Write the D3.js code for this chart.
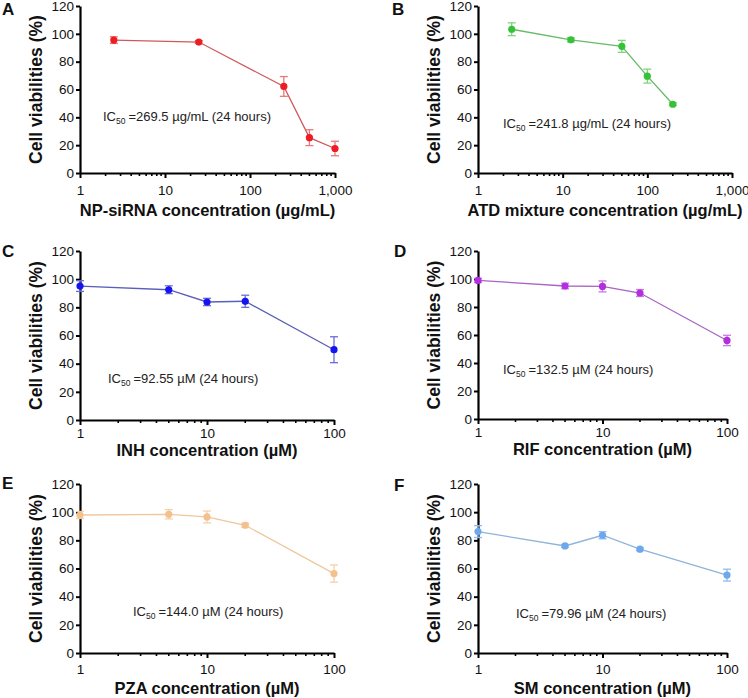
<!DOCTYPE html>
<html>
<head>
<meta charset="utf-8">
<script src="https://cdn.jsdelivr.net/npm/d3@7"></script>
<style>
  body { margin: 0; background: #fff; }
  svg { display: block; font-family: Arial, "Liberation Sans", sans-serif; }
</style>
</head>
<body>
<svg id="chart" width="748" height="698"></svg>
<script>
// ---- data ----
const panelLetters = ["A", "B", "C", "D", "E", "F"];
const xTitles = [
  "NP-siRNA concentration (µg/mL)",
  "ATD mixture concentration (µg/mL)",
  "INH concentration (µM)",
  "RIF concentration (µM)",
  "PZA concentration (µM)",
  "SM concentration (µM)"
];
const ic50Texts = [
  "=269.5 µg/mL (24 hours)",
  "=241.8 µg/mL (24 hours)",
  "=92.55 µM (24 hours)",
  "=132.5 µM (24 hours)",
  "=144.0 µM (24 hours)",
  "=79.96 µM (24 hours)"
];

const concNP = [2.5, 25, 250, 500, 1000];
const viabNP = [95.5, 94.1, 62.2, 25.4, 17.6];
const errNP = [2.4, 1.0, 7.1, 5.7, 5.2];

const concATD = [2.5, 12.5, 50, 100, 200];
const viabATD = [103.3, 95.7, 91.0, 69.6, 49.4];
const errATD = [4.6, 1.5, 4.3, 5.0, 1.0];

const concDrug = [1, 5, 10, 20, 100];
const viabINH = [95.1, 92.5, 83.8, 84.3, 49.9];
const errINH = [3.8, 2.8, 2.6, 4.3, 9.2];
const viabRIF = [99.0, 95.0, 94.7, 90.0, 56.1];
const errRIF = [1.5, 2.0, 3.9, 2.5, 3.7];
const viabPZA = [98.0, 98.5, 96.6, 90.7, 56.4];
const errPZA = [2.5, 3.3, 4.2, 1.5, 6.1];
const viabSM = [86.2, 76.0, 83.6, 73.7, 55.3];
const errSM = [4.2, 1.0, 2.5, 1.0, 4.2];

const yTicks = [0, 20, 40, 60, 80, 100, 120];
const xTicksWide = [1, 10, 100, 1000];
const xTicksNarrow = [1, 10, 100];

// ---- layout / styles (not data) ----
const colors = [
  { dot: "#ee1d24", line: "#cf5a5e", err: "#e5797c" },
  { dot: "#36c236", line: "#66bb66", err: "#7fd47f" },
  { dot: "#1414f0", line: "#5a5fb8", err: "#6c6cd8" },
  { dot: "#b42ee0", line: "#a864c4", err: "#c87ae6" },
  { dot: "#f4c08c", line: "#eec89c", err: "#f4d0aa" },
  { dot: "#6ea8ec", line: "#8eb4da", err: "#8cbcf0" }
];
const layout = [
  { l: 80, r: 335, t: 6, b: 173, tickPad: 7, titleDy: 43, ic: [23, 115], letter: [2, 15] },
  { l: 478, r: 732, t: 6, b: 173, tickPad: 7, titleDy: 43, ic: [25, 122], letter: [392, 15] },
  { l: 80, r: 334, t: 251, b: 420, tickPad: 3, titleDy: 36, ic: [28, 132], letter: [2, 257] },
  { l: 478, r: 727, t: 251, b: 419, tickPad: 3, titleDy: 36, ic: [25, 123], letter: [394, 257] },
  { l: 80, r: 334, t: 484, b: 653, tickPad: 6, titleDy: 41, ic: [53, 132], letter: [2, 489] },
  { l: 478, r: 727, t: 484, b: 653, tickPad: 6, titleDy: 41, ic: [38, 134], letter: [394, 491] }
];

const panels = [
  { x: concNP, y: viabNP, e: errNP, dom: [1, 1000], ticks: xTicksWide },
  { x: concATD, y: viabATD, e: errATD, dom: [1, 1000], ticks: xTicksWide },
  { x: concDrug, y: viabINH, e: errINH, dom: [1, 100], ticks: xTicksNarrow },
  { x: concDrug, y: viabRIF, e: errRIF, dom: [1, 100], ticks: xTicksNarrow },
  { x: concDrug, y: viabPZA, e: errPZA, dom: [1, 100], ticks: xTicksNarrow },
  { x: concDrug, y: viabSM, e: errSM, dom: [1, 100], ticks: xTicksNarrow }
];

const svg = d3.select("#chart");
const fmt = d3.format(",");

panels.forEach((p, i) => {
  const L = layout[i];
  const c = colors[i];
  const g = svg.append("g");

  const x = d3.scaleLog().domain(p.dom).range([L.l, L.r]);
  const y = d3.scaleLinear().domain([0, 120]).range([L.b, L.t]);

  // minor log ticks
  const minor = [];
  for (let d = p.dom[0]; d < p.dom[1]; d *= 10) {
    for (let k = 2; k <= 9; k++) minor.push(d * k);
  }
  g.append("g")
    .selectAll("line")
    .data(minor)
    .join("line")
    .attr("x1", d => x(d)).attr("x2", d => x(d))
    .attr("y1", L.b).attr("y2", L.b + 3)
    .attr("stroke", "#000").attr("stroke-width", 1.6);

  // x axis
  const xa = g.append("g")
    .attr("transform", `translate(0,${L.b})`)
    .call(d3.axisBottom(x).tickValues(p.ticks).tickFormat(fmt)
      .tickSize(5).tickSizeOuter(0).tickPadding(L.tickPad));
  xa.select(".domain").attr("stroke-width", 2.2);
  xa.selectAll(".tick line").attr("stroke-width", 2);
  xa.selectAll(".tick text").attr("font-size", 13.5).attr("fill", "#111")
    .attr("font-family", "Arial, 'Liberation Sans', sans-serif");

  // y axis
  const ya = g.append("g")
    .attr("transform", `translate(${L.l},0)`)
    .call(d3.axisLeft(y).tickValues(yTicks).tickSize(4).tickSizeOuter(0).tickPadding(2));
  ya.select(".domain").attr("stroke-width", 2.2);
  ya.selectAll(".tick line").attr("stroke-width", 2);
  ya.selectAll(".tick text").attr("font-size", 13.5).attr("fill", "#111")
    .attr("font-family", "Arial, 'Liberation Sans', sans-serif");

  // titles
  g.append("text")
    .attr("x", (L.l + L.r) / 2)
    .attr("y", L.b + L.titleDy)
    .attr("text-anchor", "middle")
    .attr("font-size", 16.5).attr("font-weight", "bold").attr("fill", "#111")
    .text(xTitles[i]);

  g.append("text")
    .attr("transform", `translate(${L.l - 38},${(L.t + L.b) / 2}) rotate(-90)`)
    .attr("text-anchor", "middle")
    .attr("font-size", 17.5).attr("font-weight", "bold").attr("fill", "#111")
    .text("Cell viabilities (%)");

  g.append("text")
    .attr("x", L.letter[0]).attr("y", L.letter[1])
    .attr("font-size", 17).attr("font-weight", "bold").attr("fill", "#111")
    .text(panelLetters[i]);

  // IC50 annotation
  const ic = g.append("text")
    .attr("x", L.l + L.ic[0]).attr("y", L.t + L.ic[1])
    .attr("font-size", 13).attr("fill", "#222");
  ic.append("tspan").text("IC");
  ic.append("tspan").attr("font-size", 8.5).attr("dy", 3).text("50");
  ic.append("tspan").attr("dy", -3).attr("dx", 3).text(ic50Texts[i]);

  const pts = p.x.map((v, j) => ({ c: v, v: p.y[j], e: p.e[j] }));

  // connecting line
  g.append("path")
    .datum(pts)
    .attr("fill", "none")
    .attr("stroke", c.line)
    .attr("stroke-width", 1.3)
    .attr("d", d3.line().x(d => x(d.c)).y(d => y(d.v)));

  // error bars
  const eb = g.append("g").attr("stroke", c.err).attr("stroke-width", 1.3);
  eb.selectAll(".v").data(pts).join("line")
    .attr("x1", d => x(d.c)).attr("x2", d => x(d.c))
    .attr("y1", d => y(d.v - d.e)).attr("y2", d => y(d.v + d.e));
  eb.selectAll(".top").data(pts).join("line")
    .attr("x1", d => x(d.c) - 4).attr("x2", d => x(d.c) + 4)
    .attr("y1", d => y(d.v + d.e)).attr("y2", d => y(d.v + d.e));
  eb.selectAll(".bot").data(pts).join("line")
    .attr("x1", d => x(d.c) - 4).attr("x2", d => x(d.c) + 4)
    .attr("y1", d => y(d.v - d.e)).attr("y2", d => y(d.v - d.e));

  // points
  g.append("g").selectAll("circle").data(pts).join("circle")
    .attr("cx", d => x(d.c)).attr("cy", d => y(d.v))
    .attr("r", 3.6)
    .attr("fill", c.dot);
});
</script>
</body>
</html>
